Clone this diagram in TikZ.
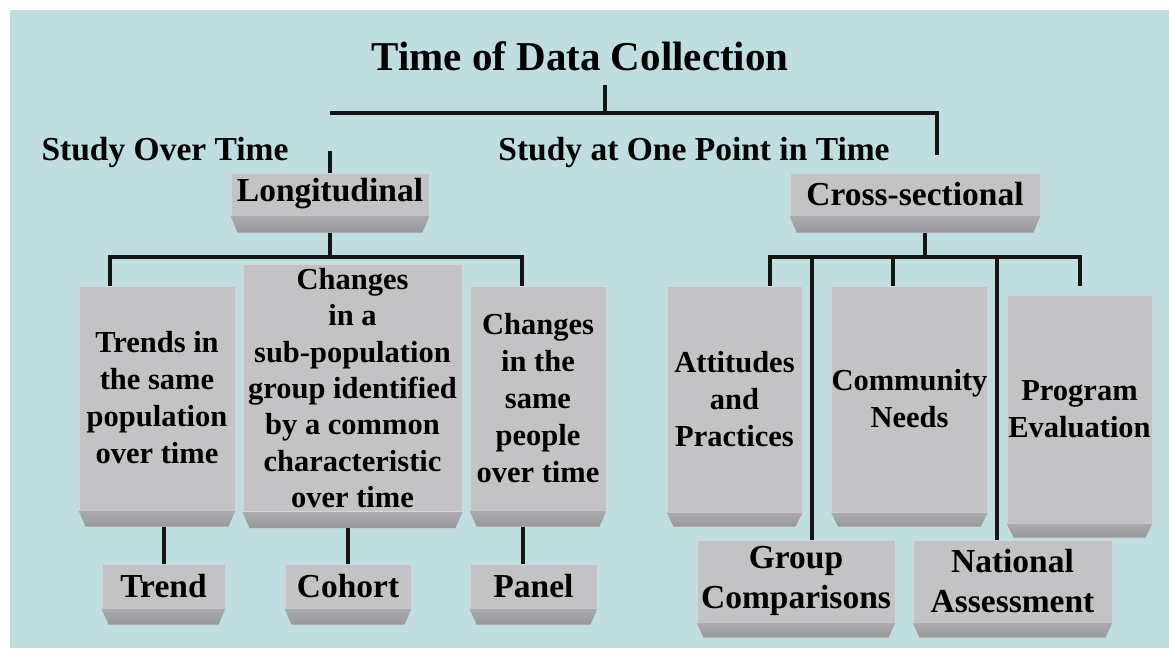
\documentclass[tikz,border=0pt]{standalone}
\usepackage{fontspec}
\setmainfont{Liberation Serif}
\usetikzlibrary{calc}

\definecolor{bgteal}{RGB}{192,222,223}
\definecolor{facegray}{RGB}{195,194,196}
\definecolor{edgegray}{RGB}{214,214,216}
\definecolor{bevtop}{RGB}{172,171,173}
\definecolor{bevbot}{RGB}{152,151,153}
\definecolor{inkline}{RGB}{20,20,20}

\newcommand\ftitle{\fontsize{41}{46}\selectfont}
\newcommand\fhead{\fontsize{33.5}{40}\selectfont}
\newcommand\fbody{\fontsize{30.5}{37}\selectfont}
\newcommand\fbodytight{\fontsize{30.5}{36.3}\selectfont}

% bevelled lower edge under a face node; #2 = bevel height
\newcommand\bevelunder[2]{%
  \shade[top color=bevtop, bottom color=bevbot]
    (#1.south west) -- (#1.south east) -- ($(#1.south east)+(-7,#2)$)
    -- ($(#1.south west)+(7,#2)$) -- cycle;
  \coordinate (#1-b) at ($(#1.south)+(0,#2)$);}

\tikzset{
  face/.style={fill=facegray, draw=edgegray, line width=1pt, inner sep=0pt,
    align=center, font=\bfseries, text=black},
  heading/.style={anchor=base, inner sep=0pt, font=\bfseries\fhead, text=black},
  conn/.style={draw=inkline, line width=4pt},
}

\begin{document}
\begin{tikzpicture}[x=1pt,y=-1pt]
\useasboundingbox (0,0) rectangle (1169,648);
\fill[white] (0,0) rectangle (1169,648);
\fill[bgteal] (10,10) rectangle (1169,648);

% titles
\node[anchor=base, inner sep=0pt, font=\bfseries\ftitle] (title) at (580,70) {Time of Data Collection};
\node[heading] (over) at (165,160) {Study Over Time};
\node[heading] (point) at (694,160) {Study at One Point in Time};

% level 2
\node[face, font=\bfseries\fhead, minimum width=198pt, minimum height=42pt] (lon) at (330,194) {Longitudinal};
\node[face, font=\bfseries\fhead, minimum width=250pt, minimum height=42pt] (cross) at (915,194) {Cross-sectional};

% longitudinal descriptions
\node[face, font=\bfseries\fbody, minimum width=156pt, minimum height=224pt] (trends) at (157,398)
  {Trends in\\the same\\population\\over time};
\node[face, font=\bfseries\fbodytight, minimum width=219pt, minimum height=247pt] (cohortd) at (352.5,388)
  {Changes\\in a\\sub-population\\group identified\\by a common\\characteristic\\over time};
\node[face, font=\bfseries\fbody, minimum width=136pt, minimum height=224pt] (paneld) at (538,398)
  {Changes\\in the\\same\\people\\over time};

% longitudinal types
\node[face, font=\bfseries\fhead, minimum width=123pt, minimum height=44pt] (trend) at (163.5,586) {Trend};
\node[face, font=\bfseries\fhead, minimum width=126pt, minimum height=44pt] (cohort) at (348,586) {Cohort};
\node[face, font=\bfseries\fhead, minimum width=127pt, minimum height=44pt] (panel) at (533.5,586) {Panel};

% cross-sectional types
\node[face, font=\bfseries\fbody, minimum width=135pt, minimum height=226pt] (att) at (734.5,399)
  {Attitudes\\and\\Practices};
\node[face, font=\bfseries\fbody, minimum width=155pt, minimum height=226pt] (comm) at (909.5,399)
  {Community\\Needs};
\node[face, font=\bfseries\fbody, minimum width=145pt, minimum height=228pt] (prog) at (1079.5,409)
  {Program\\Evaluation};
\node[face, font=\bfseries\fhead, minimum width=198pt, minimum height=82pt] (group) at (796,581)
  {Group\\Comparisons};
\node[face, font=\bfseries\fhead, minimum width=199pt, minimum height=82pt] (natl) at (1012.5,581)
  {National\\Assessment};

% bevelled lower edges
\bevelunder{lon}{17}
\bevelunder{cross}{17}
\bevelunder{trends}{16}
\bevelunder{cohortd}{16}
\bevelunder{paneld}{16}
\bevelunder{trend}{16}
\bevelunder{cohort}{16}
\bevelunder{panel}{16}
\bevelunder{att}{14}
\bevelunder{comm}{14}
\bevelunder{prog}{14}
\bevelunder{group}{15}
\bevelunder{natl}{15}

% junction points
\coordinate (tdrop) at (605,85);
\coordinate (tj) at (605,113);
\coordinate (tl) at (330,113);
\coordinate (tr) at (937,113);
\coordinate (trend-end) at (937,155);
\coordinate (lstub) at (330,151);
\coordinate (lb) at (110,257);
\coordinate (rb) at (522,257);
\coordinate (pdrop) at (523,586);
\coordinate (cj) at (925,257);
\coordinate (cl) at (770,257);
\coordinate (cr) at (1080,257);
\coordinate (crend) at (1080,286);
\coordinate (cm) at (893,257);
\coordinate (gj) at (812,257);
\coordinate (nj) at (997,257);

% top level
\draw[conn] (tdrop) -- (tj);
\draw[conn] (tl) -- (tr) -- (trend-end);
\draw[conn] (lstub) -- (lon.north);

% longitudinal branch
\draw[conn] (lon-b) -- (lon-b |- lb);
\draw[conn] (trends.north -| lb) -- (lb) -- (rb) -- (paneld.north -| rb);
\draw[conn] (trend.north |- trends-b) -- (trend.north);
\draw[conn] (cohort.north |- cohortd-b) -- (cohort.north);
\draw[conn] (pdrop |- paneld-b) -- (pdrop |- panel.north);

% cross-sectional branch
\draw[conn] (cj |- cross-b) -- (cj);
\draw[conn] (cl |- att.north) -- (cl) -- (cr) -- (crend);
\draw[conn] (cm) -- (cm |- comm.north);
\draw[conn] (gj) -- (gj |- group.north);
\draw[conn] (nj) -- (nj |- natl.north);
\end{tikzpicture}
\end{document}
